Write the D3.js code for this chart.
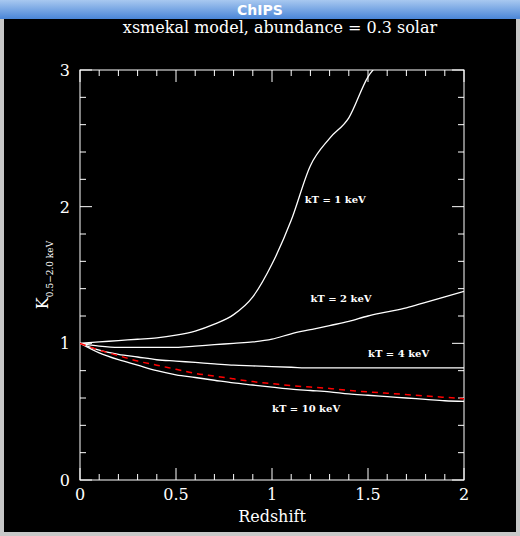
<!DOCTYPE html>
<html><head><meta charset="utf-8">
<script src="https://cdn.jsdelivr.net/npm/d3@7"></script>
<style>body{margin:0;background:#d4d4d4;}svg{display:block;}</style>
</head><body>
<script>
// values
var redshift = [0, 0.1, 0.2, 0.3, 0.4, 0.5, 0.6, 0.7, 0.8, 0.9, 1.0, 1.1, 1.2, 1.3, 1.4, 1.5, 1.6, 1.7, 1.8, 1.9, 2.0];
var kT1 = [1, 1.01, 1.02, 1.03, 1.04, 1.06, 1.09, 1.14, 1.21, 1.34, 1.58, 1.9, 2.3, 2.5, 2.65, 2.95, 3.1, null, null, null, null];
var kT2 = [1, 0.98, 0.97, 0.97, 0.97, 0.97, 0.98, 0.99, 1.0, 1.01, 1.03, 1.07, 1.1, 1.13, 1.16, 1.2, 1.23, 1.26, 1.3, 1.34, 1.38];
var kT4 = [1, 0.95, 0.92, 0.9, 0.88, 0.87, 0.86, 0.85, 0.84, 0.835, 0.83, 0.825, 0.82, 0.82, 0.82, 0.82, 0.82, 0.82, 0.82, 0.82, 0.82];
var kT10 = [1, 0.93, 0.88, 0.84, 0.8, 0.77, 0.75, 0.73, 0.71, 0.695, 0.68, 0.665, 0.655, 0.645, 0.63, 0.62, 0.61, 0.6, 0.59, 0.58, 0.575];
var fit = [1, 0.95, 0.91, 0.87, 0.84, 0.81, 0.78, 0.76, 0.74, 0.72, 0.705, 0.69, 0.68, 0.67, 0.655, 0.645, 0.635, 0.625, 0.615, 0.605, 0.595];
var labels = [["kT = 1 keV", 1.17, 2.03], ["kT = 2 keV", 1.2, 1.3], ["kT = 4 keV", 1.5, 0.9], ["kT = 10 keV", 1.0, 0.5]];
var xTicks = [0, 0.5, 1, 1.5, 2], yTicks = [0, 1, 2, 3];

var svg = d3.select('body').append('svg').attr('width', 520).attr('height', 536);
var grad = svg.append('defs').append('linearGradient').attr('id', 'tb').attr('x1', 0).attr('x2', 0).attr('y1', 0).attr('y2', 1);
grad.append('stop').attr('offset', 0).attr('stop-color', '#a8c8f0');
grad.append('stop').attr('offset', 1).attr('stop-color', '#4a86d8');
svg.append('rect').attr('width', 520).attr('height', 536).attr('fill', '#c8c8c8');
svg.append('rect').attr('width', 520).attr('height', 19).attr('fill', 'url(#tb)');
svg.append('text').attr('x', 260).attr('y', 15).attr('text-anchor', 'middle')
    .style('font', 'bold 14px "DejaVu Sans"').style('fill', 'white').text('ChIPS');
svg.append('rect').attr('x', 4).attr('y', 19).attr('width', 512).attr('height', 513).attr('fill', 'black');

var x = d3.scaleLinear().domain([0, 2]).range([80, 464]),
    y = d3.scaleLinear().domain([0, 3]).range([480, 70]);
var g = svg.append('g').style('font-family', '"DejaVu Serif", serif').style('fill', 'white');

g.append('rect').attr('x', 80).attr('y', 70).attr('width', 384).attr('height', 410)
    .attr('fill', 'none').attr('stroke', 'white');
var xAx = d3.range(0, 2.001, 0.1), yAx = d3.range(0, 3.001, 0.2);
xAx.forEach(function (v) {
    var len = Math.abs(v * 2 - Math.round(v * 2)) < 1e-6 ? 12 : 6;
    g.append('line').attr('x1', x(v)).attr('x2', x(v)).attr('y1', 480).attr('y2', 480 - len).attr('stroke', 'white');
    g.append('line').attr('x1', x(v)).attr('x2', x(v)).attr('y1', 70).attr('y2', 70 + len).attr('stroke', 'white');
});
yAx.forEach(function (v) {
    var len = Math.abs(v - Math.round(v)) < 1e-6 ? 12 : 6;
    g.append('line').attr('y1', y(v)).attr('y2', y(v)).attr('x1', 80).attr('x2', 80 + len).attr('stroke', 'white');
    g.append('line').attr('y1', y(v)).attr('y2', y(v)).attr('x1', 464).attr('x2', 464 - len).attr('stroke', 'white');
});
xTicks.forEach(function (v) {
    g.append('text').attr('x', x(v)).attr('y', 500).attr('text-anchor', 'middle').style('font-size', '16px').text(v);
});
yTicks.forEach(function (v) {
    g.append('text').attr('x', 70).attr('y', y(v) + 6).attr('text-anchor', 'end').style('font-size', '16px').text(v);
});
g.append('text').attr('x', 272).attr('y', 522).attr('text-anchor', 'middle').style('font-size', '16px').text('Redshift');
var yl = g.append('text').attr('transform', 'translate(48,275) rotate(-90)').attr('text-anchor', 'middle').style('font-size', '16px');
yl.append('tspan').text('K');
yl.append('tspan').attr('dy', 5).style('font-size', '9px').text('0.5\u22122.0 keV');
g.append('text').attr('x', 280).attr('y', 33).attr('text-anchor', 'middle').style('font-size', '16px')
    .text('xsmekal model, abundance = 0.3 solar');

var plot = svg.append('g');
svg.append('clipPath').attr('id', 'c').append('rect').attr('x', 80).attr('y', 70).attr('width', 384).attr('height', 410);
plot.attr('clip-path', 'url(#c)');
var line = d3.line().defined(function (d) { return d[1] != null; })
    .x(function (d) { return x(d[0]); }).y(function (d) { return y(d[1]); }).curve(d3.curveMonotoneX);
[kT1, kT2, kT4, kT10].forEach(function (s) {
    plot.append('path').datum(redshift.map(function (z, i) { return [z, s[i]]; }))
        .attr('d', line).attr('fill', 'none').attr('stroke', 'white').attr('stroke-width', 1.3);
});
plot.append('path').datum(redshift.map(function (z, i) { return [z, fit[i]]; }))
    .attr('d', line).attr('fill', 'none').attr('stroke', 'red').attr('stroke-width', 1.5).attr('stroke-dasharray', '6,5');
labels.forEach(function (l) {
    g.append('text').attr('x', x(l[1])).attr('y', y(l[2])).style('font-size', '10px').style('font-weight', 'bold').text(l[0]);
});
</script>
</body></html>
